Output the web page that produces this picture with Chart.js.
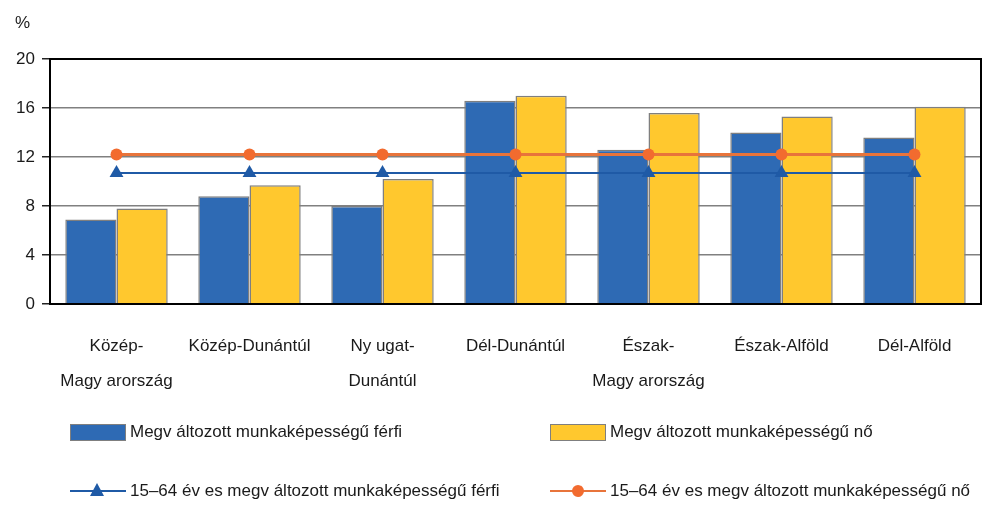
<!DOCTYPE html>
<html>
<head>
<meta charset="utf-8">
<script src="https://cdn.jsdelivr.net/npm/chart.js@4"></script>
<style>
  body { margin: 0; background: #fff; }
  #wrap { position: relative; width: 1007px; height: 525px; font-family: "Liberation Sans", Arial, sans-serif; color: #1a1a1a; }
  #unit { position: absolute; left: 15px; top: 13px; font-size: 17px; }
  .leg { position: absolute; font-size: 17px; white-space: nowrap; height: 20px; line-height: 20px; }
  .leg .ico { position: absolute; left: 0; top: 0; width: 56px; height: 20px; }
  .leg .txt { position: absolute; left: 60px; top: 0; }
  .box { position: absolute; left: 0; top: 2px; width: 54px; height: 15px; border: 1px solid #7f7f7f; }
  .ln { position: absolute; left: 0; top: 9px; width: 56px; height: 2px; }
  .tri { position: absolute; left: 20px; top: 2px; width: 0; height: 0; border-left: 7px solid transparent; border-right: 7px solid transparent; border-bottom: 13px solid #1f5aa6; }
  .dot { position: absolute; left: 22px; top: 4px; width: 12px; height: 12px; border-radius: 50%; background: #f26b2f; }
</style>
</head>
<body>
<div id="wrap">
  <canvas id="chart" width="1007" height="525"></canvas>
  <div id="unit">%</div>
  <div class="leg" style="left:70px; top:422px;">
    <div class="ico"><div class="box" style="background:#2e6ab4"></div></div>
    <div class="txt">Megv áltozott munkaképességű férfi</div>
  </div>
  <div class="leg" style="left:550px; top:422px;">
    <div class="ico"><div class="box" style="background:#ffc82e"></div></div>
    <div class="txt">Megv áltozott munkaképességű nő</div>
  </div>
  <div class="leg" style="left:70px; top:481px;">
    <div class="ico"><div class="ln" style="background:#1f5aa6"></div><div class="tri"></div></div>
    <div class="txt">15–64 év es megv áltozott munkaképességű férfi</div>
  </div>
  <div class="leg" style="left:550px; top:481px;">
    <div class="ico"><div class="ln" style="background:#e8743b"></div><div class="dot"></div></div>
    <div class="txt">15–64 év es megv áltozott munkaképességű nő</div>
  </div>
</div>
<script>
const regions = [
  ['Közép-', 'Magy arország'],
  'Közép-Dunántúl',
  ['Ny ugat-', 'Dunántúl'],
  'Dél-Dunántúl',
  ['Észak-', 'Magy arország'],
  'Észak-Alföld',
  'Dél-Alföld'
];
const menAll = [6.9, 8.8, 8.0, 16.6, 12.6, 14.0, 13.6];
const womenAll = [7.8, 9.7, 10.2, 17.0, 15.6, 15.3, 16.1];
const men1564 = [10.7, 10.7, 10.7, 10.7, 10.7, 10.7, 10.7];
const women1564 = [12.2, 12.2, 12.2, 12.2, 12.2, 12.2, 12.2];
const yTicks = [0, 4, 8, 12, 16, 20];

// black frame around the plot area
const frame = {
  id: 'frame',
  afterDatasetsDraw(chart) {
    const a = chart.chartArea, ctx = chart.ctx;
    ctx.save();
    ctx.strokeStyle = '#000';
    ctx.lineWidth = 2;
    ctx.strokeRect(a.left, a.top, a.right - a.left, a.bottom - a.top);
    ctx.restore();
  }
};

new Chart(document.getElementById('chart'), {
  data: {
    labels: regions,
    datasets: [
      { type: 'line', label: '15–64 éves megváltozott munkaképességű nő', data: women1564, order: 0,
        borderColor: '#e8743b', borderWidth: 3, pointStyle: 'circle', pointRadius: 6,
        pointBackgroundColor: '#f26b2f', pointBorderWidth: 0 },
      { type: 'line', label: '15–64 éves megváltozott munkaképességű férfi', data: men1564, order: 0,
        borderColor: '#1f5aa6', borderWidth: 2, pointStyle: 'triangle', pointRadius: 8,
        pointBackgroundColor: '#1f5aa6', pointBorderWidth: 0 },
      { type: 'bar', label: 'Megváltozott munkaképességű férfi', data: menAll, order: 1,
        backgroundColor: '#2e6ab4', borderColor: '#7f7f7f', borderWidth: 1.5,
        categoryPercentage: 0.77, barPercentage: 1 },
      { type: 'bar', label: 'Megváltozott munkaképességű nő', data: womenAll, order: 1,
        backgroundColor: '#ffc82e', borderColor: '#7f7f7f', borderWidth: 1.5,
        categoryPercentage: 0.77, barPercentage: 1 }
    ]
  },
  options: {
    responsive: false,
    animation: false,
    layout: { padding: { left: 0, right: 26, top: 59, bottom: 0 } },
    plugins: { legend: { display: false }, tooltip: { enabled: false } },
    scales: {
      x: {
        afterFit: s => { s.height = 221; },
        grid: { display: false },
        border: { display: false },
        ticks: { color: '#1a1a1a', padding: 17, maxRotation: 0, autoSkip: false,
          font: { family: 'Liberation Sans', size: 17, lineHeight: 2.05 } }
      },
      y: {
        min: 0, max: 20,
        afterFit: s => { s.width = 50; },
        afterBuildTicks: s => { s.ticks = yTicks.map(v => ({ value: v })); },
        border: { display: false },
        grid: {
          color: c => (c.tick.value === 0 || c.tick.value === 20) ? '#000' : '#808080',
          lineWidth: 1.5, tickLength: 8, tickColor: '#222', tickWidth: 1.5
        },
        ticks: { color: '#1a1a1a', padding: 7, font: { family: 'Liberation Sans', size: 17 } }
      }
    }
  },
  plugins: [frame]
});
</script>
</body>
</html>
